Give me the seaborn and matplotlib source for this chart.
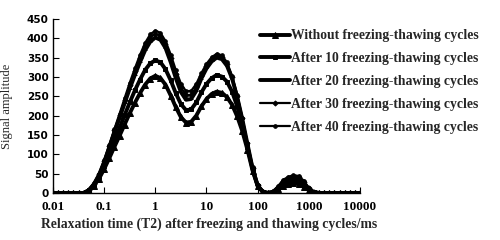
import numpy as np
import pandas as pd
import seaborn as sns
import matplotlib.pyplot as plt

# T2 grid (ms), 0.1 decade steps from 0.01 to 10000
t2 = [0.01, 0.0126, 0.0158, 0.02, 0.0251, 0.0316, 0.0398, 0.0501, 0.0631, 0.0794,
      0.1, 0.126, 0.158, 0.2, 0.251, 0.316, 0.398, 0.501, 0.631, 0.794,
      1, 1.26, 1.58, 2, 2.51, 3.16, 3.98, 5.01, 6.31, 7.94,
      10, 12.6, 15.8, 20, 25.1, 31.6, 39.8, 50.1, 63.1, 79.4,
      100, 126, 158, 200, 251, 316, 398, 501, 631, 794,
      1000, 1259, 1585, 1995, 2512, 3162, 3981, 5012, 6310, 7943, 10000]

amp_0 = [0, 0, 0, 0, 0, 0, 0, 6, 19, 37,
         62, 90, 119, 148, 177, 206, 233, 258, 280, 296,
         303, 297, 280, 252, 222, 196, 182, 184, 200, 224,
         243, 256, 262, 259, 248, 228, 198, 160, 112, 58,
         18, 3, 0, 2, 9, 18, 23, 25, 23, 16,
         7, 1, 0, 0, 0, 0, 0, 0, 0, 0, 0]
amp_10 = [0, 0, 0, 0, 0, 0, 0, 7, 21, 42,
          70, 102, 135, 168, 201, 234, 265, 293, 318, 335,
          343, 338, 320, 291, 258, 230, 214, 216, 234, 260,
          282, 297, 305, 301, 288, 262, 224, 176, 120, 62,
          19, 3, 0, 2, 11, 22, 28, 30, 28, 20,
          8, 2, 0, 0, 0, 0, 0, 0, 0, 0, 0]
amp_20 = [0, 0, 0, 0, 0, 0, 0, 7, 23, 47,
          80, 118, 156, 194, 232, 270, 305, 338, 369, 391,
          402, 396, 375, 338, 297, 261, 241, 243, 264, 296,
          322, 340, 350, 346, 329, 296, 248, 191, 127, 64,
          19, 3, 0, 3, 14, 28, 35, 38, 36, 26,
          11, 2, 0, 0, 0, 0, 0, 0, 0, 0, 0]
amp_30 = [0, 0, 0, 0, 0, 0, 0, 8, 24, 49,
          83, 122, 162, 201, 240, 279, 315, 350, 380, 402,
          412, 406, 385, 349, 308, 273, 253, 254, 273, 303,
          328, 346, 356, 352, 334, 300, 251, 193, 128, 65,
          20, 3, 0, 3, 16, 31, 38, 42, 40, 29,
          12, 2, 0, 0, 0, 0, 0, 0, 0, 0, 0]
amp_40 = [0, 0, 0, 0, 0, 0, 0, 8, 25, 50,
          85, 125, 165, 205, 245, 285, 322, 357, 388, 410,
          420, 414, 393, 358, 318, 283, 263, 264, 282, 310,
          334, 351, 360, 356, 338, 303, 254, 195, 130, 66,
          20, 3, 0, 4, 18, 34, 42, 46, 44, 32,
          13, 3, 0, 0, 0, 0, 0, 0, 0, 0, 0]

labels = ['Without freezing-thawing cycles',
          'After 10 freezing-thawing cycles',
          'After 20 freezing-thawing cycles',
          'After 30 freezing-thawing cycles',
          'After 40 freezing-thawing cycles']
series = [amp_0, amp_10, amp_20, amp_30, amp_40]
markers = ['^', 's', '_', 'D', 'o']
widths = [2.8, 2.8, 2.8, 1.6, 1.6]
msizes = [4.0, 3.4, 3.0, 2.6, 2.6]

sns.set_style('ticks')
plt.rcParams['font.family'] = ['Liberation Serif', 'DejaVu Serif']

fig = plt.figure(figsize=(5, 2.4), dpi=100)
ax = fig.add_axes([0.106, 0.196, 0.614, 0.725])

for lab, amp, mk, lw, ms in zip(labels, series, markers, widths, msizes):
    df = pd.DataFrame({'T2': t2, 'amp': amp})
    sns.lineplot(data=df, x='T2', y='amp', ax=ax, color='black', lw=lw,
                 marker=mk, markersize=ms, markeredgecolor='black',
                 markeredgewidth=0.7, label=lab)

ax.set_xscale('log')
ax.set_xlim(0.01, 10000)
ax.set_ylim(0, 450)
ax.set_yticks(range(0, 451, 50))
ax.set_xticks([0.01, 0.1, 1, 10, 100, 1000, 10000])
ax.set_xticklabels(['0.01', '0.1', '1', '10', '100', '1000', '10000'],
                   fontsize=9.5, fontweight='bold')
ax.minorticks_off()
for t in ax.get_yticklabels():
    t.set_fontfamily('DejaVu Sans')
    t.set_fontsize(7.5)
    t.set_fontweight('bold')
ax.tick_params(axis='both', direction='in', length=4, width=0.8, colors='black', pad=3)
ax.tick_params(axis='x', pad=6)
sns.despine(ax=ax)
for s in ['left', 'bottom']:
    ax.spines[s].set_linewidth(1.0)
    ax.spines[s].set_color('black')

ax.set_xlabel('Relaxation time (T2) after freezing and thawing cycles/ms',
              fontsize=9.8, fontweight='bold')
ax.xaxis.set_label_coords(0.51, -0.14)
ax.set_ylabel('Signal amplitude', fontsize=9)
ax.yaxis.set_label_coords(-0.13, 0.5)

leg = ax.legend(loc='upper left', bbox_to_anchor=(0.674, 0.94), frameon=False,
                prop={'family': 'Liberation Serif', 'weight': 'bold', 'size': 9.8},
                handlelength=2.2, handletextpad=0.1, labelspacing=0.72,
                borderaxespad=0, borderpad=0)

fig.savefig('out.png', dpi=100)
